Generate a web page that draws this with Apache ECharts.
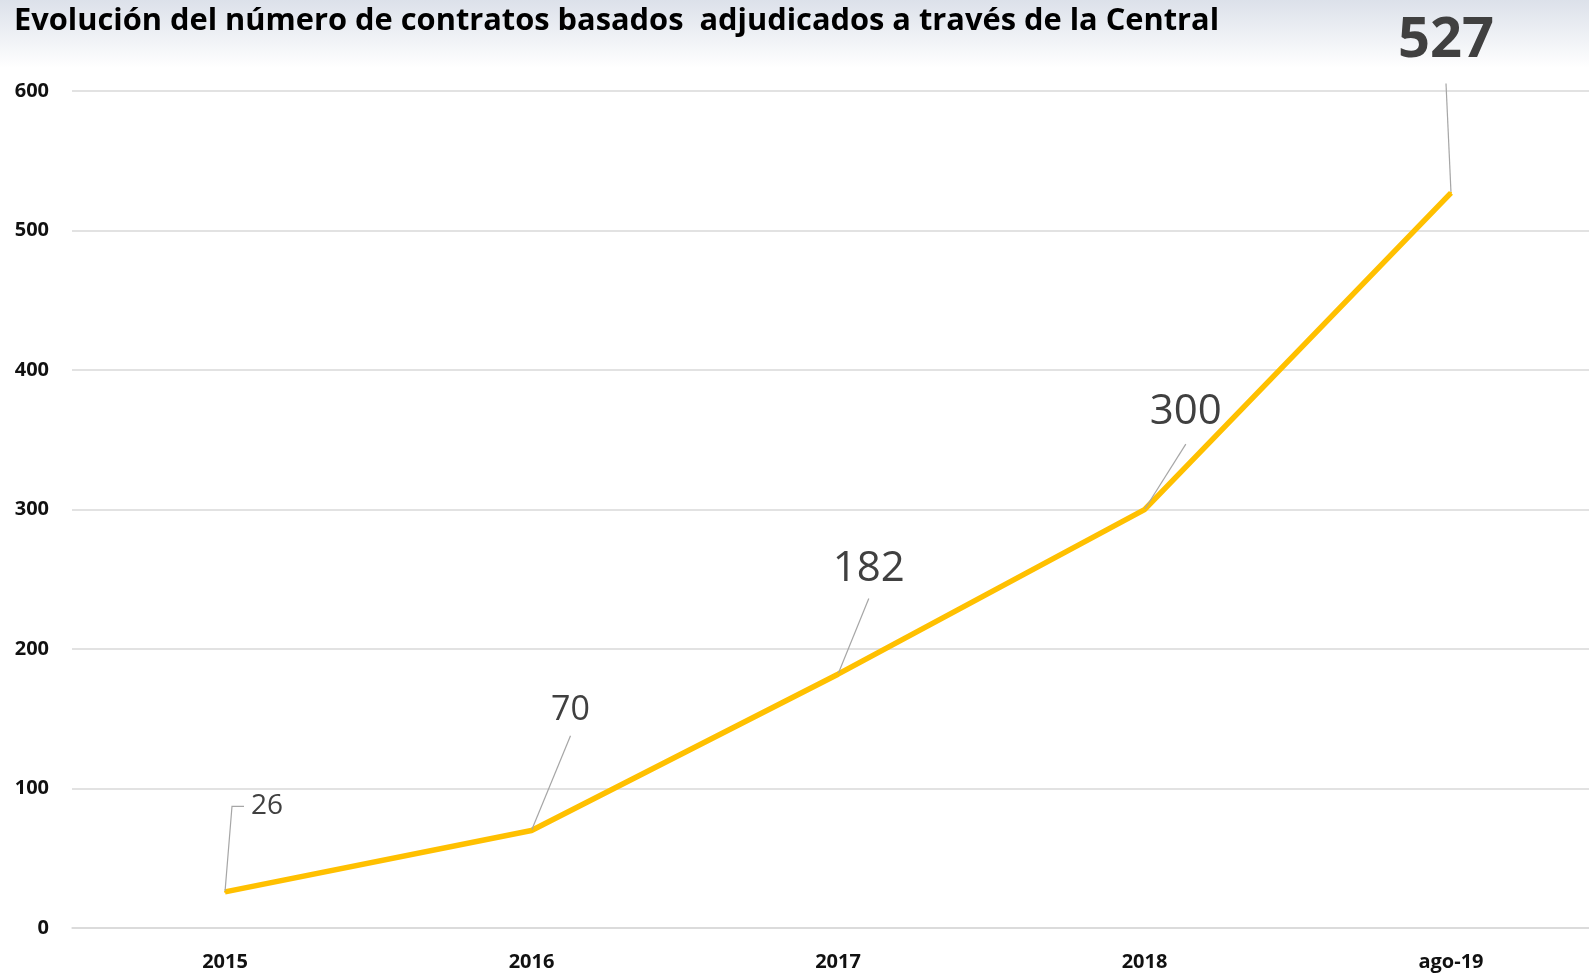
<!DOCTYPE html>
<html>
<head>
<meta charset="utf-8">
<title>Evolución contratos basados</title>
<script src="https://cdn.jsdelivr.net/npm/echarts@6/dist/echarts.min.js"></script>
<style>
  html, body { margin: 0; padding: 0; background: #fff; }
  #chart { width: 1589px; height: 973px; }
</style>
</head>
<body>
<div id="chart"></div>
<script>
// datos
var categories = ['2015', '2016', '2017', '2018', 'ago-19'];
var contratos = [26, 70, 182, 300, 527];
var yTicks = [0, 100, 200, 300, 400, 500, 600];

// estilo / posición de cada etiqueta (respecto al punto)
var labelSize = [28, 34, 42, 42, 56];
var labelDx = [19, 39, 30.8, 41.3, -5];
var labelDy = [-87.5, -122.1, -107.7, -100.4, -155.3];
var padBottom = [0, 8, 8, 11, 14];

var myChart = echarts.init(document.getElementById('chart'));

var seriesData = contratos.map(function (v, i) {
    var fs = labelSize[i];
    var item = { value: v, label: { fontSize: fs, lineHeight: fs } };
    if (i === 0) {
        // "26": la guía acaba en un tramo horizontal a la izquierda del texto
        item.label.padding = [0, 120, 0, 7];
        item.labelLine = { length2: 12 };
    } else {
        item.label.padding = [0, 0, padBottom[i], 0];
    }
    if (i === contratos.length - 1) {
        item.label.fontWeight = 'bold';
    }
    return item;
});

var gridTop = 91, gridHeight = 837.1;

myChart.setOption({
    backgroundColor: {
        type: 'linear', x: 0, y: 0, x2: 0, y2: 1,
        colorStops: [
            { offset: 0, color: '#dce1ea' },
            { offset: 0.07, color: '#ffffff' },
            { offset: 1, color: '#ffffff' }
        ]
    },
    animation: false,
    title: {
        text: 'Evolución del número de contratos basados  adjudicados a través de la Central',
        left: 14,
        top: 5,
        padding: 0,
        textStyle: {
            fontFamily: 'Open Sans',
            fontWeight: 'bold',
            fontSize: 30.8,
            lineHeight: 32,
            color: '#000'
        }
    },
    grid: [
        // rejilla de fondo: líneas horizontales hasta el borde
        { left: 72, right: 0, top: gridTop, height: gridHeight },
        // rejilla de la serie
        { left: 225, width: 1226, top: gridTop, height: gridHeight }
    ],
    xAxis: [{
        gridIndex: 0,
        type: 'value',
        axisLine: { show: true, lineStyle: { color: '#d9d9d9', width: 1.5 } },
        axisTick: { show: false },
        axisLabel: { show: false },
        splitLine: { show: false }
    }, {
        gridIndex: 1,
        type: 'category',
        data: categories,
        boundaryGap: false,
        axisLine: { show: false },
        axisTick: { show: false },
        axisLabel: {
            margin: 24,
            fontFamily: 'Open Sans',
            fontWeight: 'bold',
            fontSize: 20,
            color: '#111'
        }
    }],
    yAxis: [{
        gridIndex: 0,
        type: 'value',
        min: yTicks[0],
        max: yTicks[yTicks.length - 1],
        interval: 100,
        axisLine: { show: false },
        axisTick: { show: false },
        splitLine: { lineStyle: { color: '#d9d9d9', width: 1.5 } },
        axisLabel: {
            margin: 23,
            fontFamily: 'Open Sans',
            fontWeight: 'bold',
            fontSize: 20,
            color: '#111'
        }
    }, {
        gridIndex: 1,
        type: 'value',
        min: yTicks[0],
        max: yTicks[yTicks.length - 1],
        interval: 100,
        show: false
    }],
    series: [{
        type: 'line',
        xAxisIndex: 1,
        yAxisIndex: 1,
        data: seriesData,
        symbol: 'circle',
        symbolSize: 2,
        showSymbol: true,
        itemStyle: { color: '#ffc000' },
        lineStyle: { color: '#ffc000', width: 5.5 },
        emphasis: { disabled: true },
        label: {
            show: true,
            position: 'top',
            fontFamily: 'Open Sans',
            color: '#404040'
        },
        labelLine: {
            show: true,
            length2: 0,
            lineStyle: { color: '#a6a6a6', width: 1.2 }
        },
        labelLayout: function (p) {
            var i = p.dataIndex;
            var fs = labelSize[i];
            var cx = p.rect.x + p.rect.width / 2;
            var cy = p.rect.y + p.rect.height / 2;
            // el centro de la tinta de las cifras queda algo por encima del centro de línea
            var dy = labelDy[i] + fs * 0.07;
            if (i === 0) {
                return { x: cx + labelDx[i], y: cy + dy, align: 'left', verticalAlign: 'middle' };
            }
            return { x: cx + labelDx[i], y: cy + dy - fs / 2, align: 'center', verticalAlign: 'top' };
        }
    }]
});
</script>
</body>
</html>
